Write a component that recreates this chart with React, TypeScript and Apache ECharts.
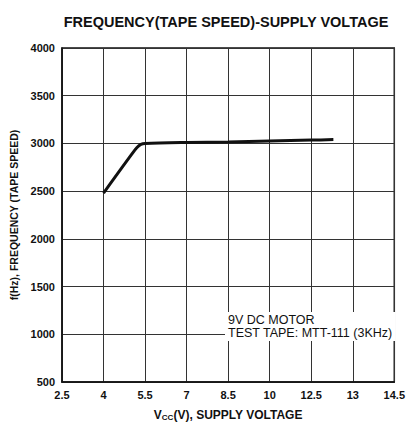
import React, { useEffect, useRef } from "react";
import * as echarts from "echarts";

const xTickLabels = ["2.5", "4", "5.5", "7", "8.5", "10", "12.5", "13", "14.5"];
const xStart = 2.5;
const xStep = 1.5;
const vcc = [4.0, 4.5, 5.0, 5.2, 5.35, 5.5, 7.0, 8.5, 10.0, 11.5, 12.3];
const freq = [2480, 2680, 2880, 2955, 2990, 3000, 3010, 3015, 3025, 3035, 3040];

const FONT = "'Liberation Sans', Arial, sans-serif";

export default function App() {
  const ref = useRef<HTMLDivElement>(null);
  useEffect(() => {
    document.body.style.margin = "0";
    const chart = echarts.init(ref.current!, null, { renderer: "svg" });
    const data = vcc.map((v, i) => [(v - xStart) / xStep, freq[i]]);
    chart.setOption({
      animation: false,
      backgroundColor: "#fff",
      title: {
        text: "FREQUENCY(TAPE SPEED)-SUPPLY VOLTAGE",
        left: 221,
        top: 9,
        textAlign: "center",
        textStyle: { fontFamily: FONT, fontSize: 14.5, fontWeight: "bold", color: "#111" },
      },
      grid: {
        left: 60,
        right: 12,
        top: 48,
        bottom: 43,
        show: true,
        borderColor: "#111",
        borderWidth: 1.5,
        containLabel: false,
      },
      xAxis: {
        type: "value",
        min: 0,
        max: 8,
        interval: 1,
        name: "V{sub|CC}(V), SUPPLY VOLTAGE",
        nameLocation: "middle",
        nameGap: 27,
        nameTextStyle: {
          fontFamily: FONT,
          fontSize: 12,
          fontWeight: "bold",
          color: "#111",
          rich: {
            sub: { fontFamily: FONT, fontSize: 8, fontWeight: "bold", color: "#111", verticalAlign: "bottom", padding: [4, 0, 0, 0] },
          },
        },
        axisLine: { show: true, lineStyle: { color: "#111", width: 1.5 } },
        axisTick: { show: false },
        splitLine: { show: true, lineStyle: { color: "#333", width: 1 } },
        axisLabel: {
          formatter: (v: number) => xTickLabels[Math.round(v)] ?? "",
          fontFamily: FONT,
          fontSize: 11,
          fontWeight: "bold",
          color: "#111",
          margin: 7,
        },
      },
      yAxis: {
        type: "value",
        min: 500,
        max: 4000,
        interval: 500,
        name: "f(Hz), FREQUENCY (TAPE SPEED)",
        nameLocation: "middle",
        nameGap: 43,
        nameTextStyle: { fontFamily: FONT, fontSize: 10.5, fontWeight: "bold", color: "#111" },
        axisLine: { show: true, lineStyle: { color: "#111", width: 1.5 } },
        axisTick: { show: false },
        splitLine: { show: true, lineStyle: { color: "#333", width: 1 } },
        axisLabel: {
          formatter: (v: number) => String(v),
          fontFamily: FONT,
          fontSize: 11,
          fontWeight: "bold",
          color: "#111",
          margin: 7,
        },
      },
      graphic: [
        {
          type: "text",
          left: 225,
          top: 312,
          z: 10,
          style: {
            text: "9V DC MOTOR\nTEST TAPE: MTT-111 (3KHz)",
            fontFamily: FONT,
            fontSize: 12.5,
            lineHeight: 13,
            fill: "#111",
            backgroundColor: "#fff",
            padding: [1, 3, 2, 3],
          },
        },
      ],
      series: [
        {
          type: "line",
          data,
          smooth: 0.3,
          showSymbol: false,
          lineStyle: { color: "#111", width: 3 },
          z: 5,
        },
      ],
    });
    return () => chart.dispose();
  }, []);
  return <div ref={ref} style={{ width: 408, height: 426 }} />;
}
